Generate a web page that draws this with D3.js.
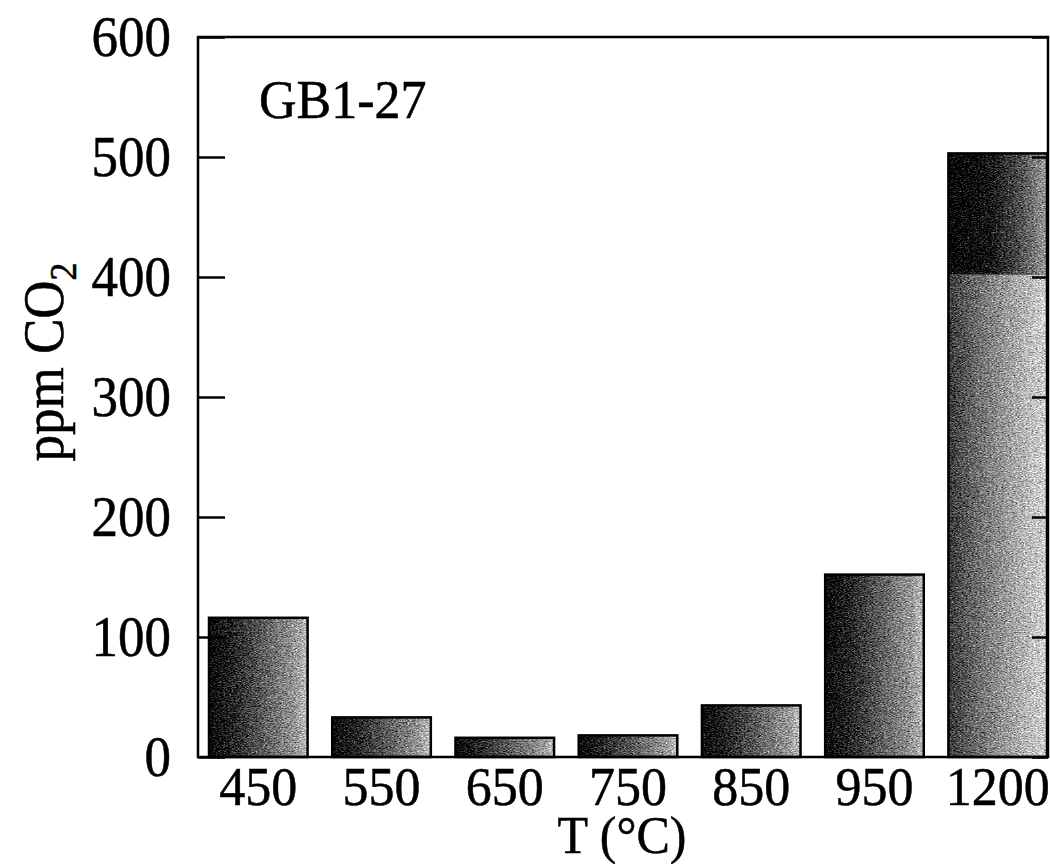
<!DOCTYPE html>
<html>
<head>
<meta charset="utf-8">
<script src="https://cdn.jsdelivr.net/npm/d3@7"></script>
<style>
  html, body { margin: 0; padding: 0; background: #fff; }
  svg { display: block; }
  text { font-family: "Liberation Serif", "Times New Roman", serif; fill: #000; stroke: #000; stroke-width: 0.5px; }
</style>
</head>
<body>
<svg id="chart" width="1050" height="864"></svg>
<script>
// Release temperatures (°C) and CO2 released at each step (ppm)
const temps = ["450", "550", "650", "750", "850", "950", "1200"];
const co2Lower = [116, 33, 16, 18, 43, 152, 402];
const co2Upper = [0, 0, 0, 0, 0, 0, 101];
const yTicks = [0, 100, 200, 300, 400, 500, 600];
const sampleName = "GB1-27";

const svg = d3.select("#chart");
const plot = { left: 198, right: 1048, top: 37, bottom: 757 };

const x = d3.scaleBand()
  .domain(temps)
  .range([209, 1047])
  .paddingInner(0.2)
  .paddingOuter(0);

const y = d3.scaleLinear()
  .domain([0, 600])
  .range([plot.bottom, plot.top]);

// Shaded, grainy bar fill: dark on the left fading lighter to the right
const defs = svg.append("defs");
function shade(id, stops) {
  const g = defs.append("linearGradient").attr("id", id)
    .attr("x1", "0").attr("x2", "1").attr("y1", "0").attr("y2", "0");
  stops.forEach(([o, c]) => g.append("stop").attr("offset", o).attr("stop-color", c));
}
shade("shadeMid", [[0, "#080808"], [0.25, "#262626"], [0.6, "#666"], [0.88, "#9a9a9a"], [1, "#c4c4c4"]]);
shade("shadeDark", [[0, "#030303"], [0.4, "#121212"], [0.75, "#555"], [1, "#a0a0a0"]]);
shade("shadeLight", [[0, "#3a3a3a"], [0.3, "#707070"], [0.7, "#acacac"], [1, "#d6d6d6"]]);

const grain = defs.append("filter").attr("id", "grain")
  .attr("x", 0).attr("y", 0).attr("width", 1).attr("height", 1)
  .attr("color-interpolation-filters", "sRGB");
grain.append("feTurbulence").attr("type", "fractalNoise")
  .attr("baseFrequency", "0.5 1.2").attr("numOctaves", 3).attr("seed", 7).attr("result", "noise");
grain.append("feColorMatrix").attr("in", "noise").attr("type", "matrix")
  .attr("values", "0.33 0.33 0.33 0 0 0.33 0.33 0.33 0 0 0.33 0.33 0.33 0 0 0 0 0 0 1")
  .attr("result", "gray");
grain.append("feComposite").attr("in", "SourceGraphic").attr("in2", "gray")
  .attr("operator", "arithmetic").attr("k1", 0).attr("k2", 1).attr("k3", 1.8).attr("k4", -0.9)
  .attr("result", "mix");
grain.append("feComposite").attr("in", "mix").attr("in2", "SourceAlpha").attr("operator", "in");

// Bars (lower segment, then the upper segment stacked on top)
const bars = temps.map((t, i) => ({ t, lo: co2Lower[i], hi: co2Upper[i] }));

svg.append("g").selectAll("rect.lower").data(bars).join("rect")
  .attr("class", "lower")
  .attr("x", d => x(d.t))
  .attr("width", x.bandwidth())
  .attr("y", d => y(d.lo))
  .attr("height", d => y(0) - y(d.lo))
  .attr("fill", d => d.hi > 0 ? "url(#shadeLight)" : "url(#shadeMid)")
  .attr("filter", "url(#grain)");

svg.append("g").selectAll("rect.upper").data(bars.filter(d => d.hi > 0)).join("rect")
  .attr("class", "upper")
  .attr("x", d => x(d.t))
  .attr("width", x.bandwidth())
  .attr("y", d => y(d.lo + d.hi))
  .attr("height", d => y(d.lo) - y(d.lo + d.hi))
  .attr("fill", "url(#shadeDark)")
  .attr("filter", "url(#grain)");

// Bar outlines
svg.append("g").selectAll("rect.outline").data(bars).join("rect")
  .attr("class", "outline")
  .attr("x", d => x(d.t))
  .attr("width", x.bandwidth())
  .attr("y", d => y(d.lo + d.hi))
  .attr("height", d => y(0) - y(d.lo + d.hi))
  .attr("fill", "none")
  .attr("stroke", "#000")
  .attr("stroke-width", 2.5);

// Frame
svg.append("rect")
  .attr("x", plot.left).attr("y", plot.top)
  .attr("width", plot.right - plot.left).attr("height", plot.bottom - plot.top)
  .attr("fill", "none").attr("stroke", "#000").attr("stroke-width", 2.5);

// Inward ticks on the left and right
const leftAxis = d3.axisLeft(y).tickValues(yTicks).tickSizeInner(-27).tickSizeOuter(0).tickFormat("");
const rightAxis = d3.axisRight(y).tickValues(yTicks).tickSizeInner(-16).tickSizeOuter(0).tickFormat("");
[[leftAxis, plot.left], [rightAxis, plot.right]].forEach(([ax, px]) => {
  const g = svg.append("g").attr("transform", `translate(${px},0)`).call(ax);
  g.select(".domain").remove();
  g.selectAll(".tick line").attr("stroke", "#000").attr("stroke-width", 2.5);
});

// Serif lettering, drawn a little taller than wide
const tall = 1.07;

// Y tick labels
svg.append("g").selectAll("text").data(yTicks).join("text")
  .attr("transform", d => `translate(171,${y(d) + 19}) scale(1,${tall})`)
  .attr("text-anchor", "end")
  .attr("font-size", 53)
  .text(d => d);

// X tick labels
svg.append("g").selectAll("text").data(temps).join("text")
  .attr("transform", d => `translate(${x(d) + x.bandwidth() / 2},805) scale(1,${tall})`)
  .attr("text-anchor", "middle")
  .attr("font-size", 52)
  .text(d => d);

// Axis titles
svg.append("text")
  .attr("transform", `translate(622,853) scale(1,${tall})`)
  .attr("text-anchor", "middle")
  .attr("font-size", 50)
  .text("T (°C)");

const yTitle = svg.append("text")
  .attr("transform", `translate(63,362) rotate(-90) scale(1,${tall})`)
  .attr("text-anchor", "middle")
  .attr("font-size", 53);
yTitle.append("tspan").text("ppm CO");
yTitle.append("tspan").attr("font-size", 36).attr("dy", 12).text("2");

// Sample label
svg.append("text")
  .attr("transform", `translate(259,118) scale(1,${tall})`)
  .attr("font-size", 52)
  .text(sampleName);
</script>
</body>
</html>
